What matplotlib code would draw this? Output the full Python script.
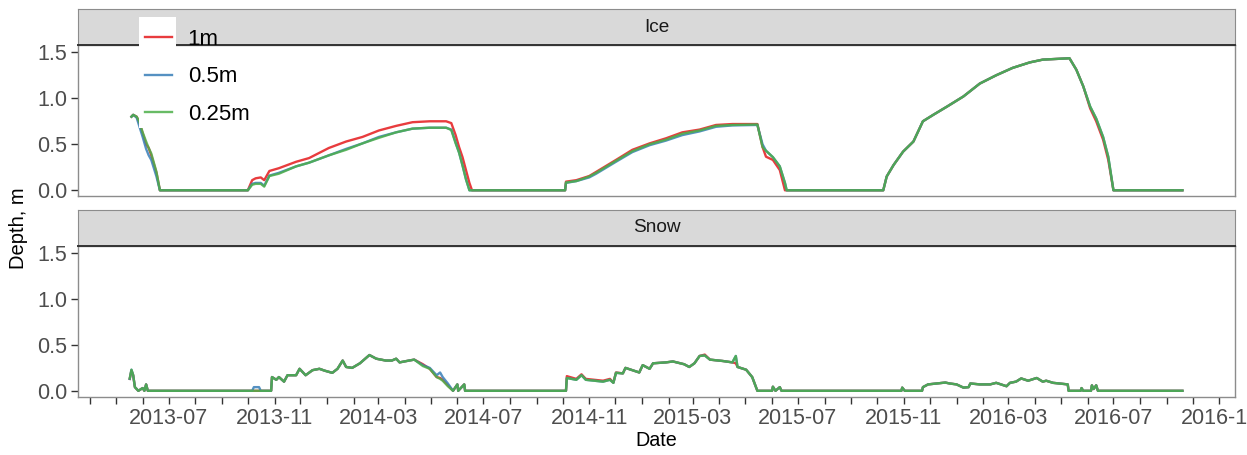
import matplotlib
matplotlib.use("Agg")
import matplotlib.pyplot as plt
import matplotlib.dates as mdates
import pandas as pd
from matplotlib.lines import Line2D
from matplotlib.patches import Rectangle
from matplotlib.ticker import FormatStrFormatter

plt.rcParams['font.family'] = ['Liberation Sans', 'DejaVu Sans']

series = ["1m", "0.5m", "0.25m"]
colors = ["#E41A1C", "#377EB8", "#4DAF4A"]

# ice depth (m)
ice_dates = [
    "2013-05-19", "2013-05-21", "2013-05-25", "2013-05-28", "2013-06-01", "2013-06-05", "2013-06-08", "2013-06-11",
    "2013-06-17", "2013-06-21", "2013-10-01", "2013-10-06", "2013-10-10", "2013-10-16", "2013-10-20", "2013-10-26",
    "2013-11-06", "2013-11-26", "2013-12-11", "2014-01-03", "2014-01-23", "2014-02-11", "2014-03-02", "2014-03-22",
    "2014-04-10", "2014-04-30", "2014-05-19", "2014-05-25", "2014-05-30", "2014-06-03", "2014-06-07", "2014-06-11",
    "2014-06-15", "2014-06-18", "2014-10-04", "2014-10-05", "2014-10-17", "2014-11-01", "2014-11-09", "2014-12-02",
    "2014-12-21", "2015-01-10", "2015-01-29", "2015-02-17", "2015-03-09", "2015-03-28", "2015-04-16", "2015-05-15",
    "2015-05-21", "2015-05-25", "2015-06-02", "2015-06-10", "2015-06-16", "2015-06-18", "2015-10-08", "2015-10-12",
    "2015-10-20", "2015-10-31", "2015-11-12", "2015-11-23", "2015-12-05", "2015-12-21", "2016-01-09", "2016-01-28",
    "2016-02-16", "2016-03-06", "2016-03-26", "2016-04-10", "2016-05-11", "2016-05-19", "2016-05-27", "2016-06-04",
    "2016-06-11", "2016-06-19", "2016-06-25", "2016-07-01", "2016-09-19",
]
ice_1m = [
    .80, .82, .80, .74, .62, .50, .46, .38,
    .19, 0, 0, .11, .13, .14, .11, .21,
    .24, .31, .35, .46, .53, .58, .65, .70,
    .74, .75, .75, .73, .60, .47, .36, .22,
    .08, 0, 0, .094, .11, .155, .20, .33,
    .44, .51, .565, .63, .66, .71, .72, .72,
    .47, .365, .33, .22, 0, 0, 0, .15,
    .275, .42, .53, .75, .82, .91, 1.02, 1.16,
    1.25, 1.33, 1.39, 1.42, 1.435, 1.31, 1.13, .89,
    .75, .55, .33, 0, 0,
]
ice_05m = [
    .80, .82, .79, .70, .58, .45, .38, .33,
    .15, 0, 0, .07, .08, .08, .05, .16,
    .19, .26, .30, .38, .45, .51, .58, .63,
    .67, .68, .68, .66, .52, .41, .27, .12,
    0, 0, 0, .08, .10, .14, .18, .31,
    .415, .49, .54, .60, .64, .69, .705, .71,
    .50, .43, .36, .26, .08, 0, 0, .15,
    .275, .42, .53, .75, .82, .91, 1.02, 1.16,
    1.25, 1.33, 1.39, 1.42, 1.435, 1.31, 1.13, .91,
    .78, .58, .365, 0, 0,
]
ice_025m = [
    .80, .82, .80, .75, .63, .53, .46, .40,
    .20, 0, 0, .06, .07, .07, .04, .155,
    .18, .26, .30, .38, .44, .51, .57, .63,
    .67, .68, .68, .655, .51, .41, .27, .12,
    0, 0, 0, .085, .10, .15, .19, .32,
    .425, .50, .55, .615, .65, .70, .71, .715,
    .47, .43, .36, .26, .08, 0, 0, .15,
    .275, .42, .53, .75, .82, .91, 1.02, 1.16,
    1.25, 1.33, 1.39, 1.42, 1.435, 1.31, 1.13, .91,
    .78, .58, .365, 0, 0,
]

# snow depth (m)
snow_dates = [
    "2013-05-17", "2013-05-19", "2013-05-21", "2013-05-23", "2013-05-27", "2013-06-01", "2013-06-03", "2013-06-05",
    "2013-06-07", "2013-10-06", "2013-10-08", "2013-10-14", "2013-10-16", "2013-10-28", "2013-10-29", "2013-11-03",
    "2013-11-06", "2013-11-12", "2013-11-16", "2013-11-26", "2013-11-30", "2013-12-07", "2013-12-15", "2013-12-23",
    "2013-12-29", "2014-01-07", "2014-01-13", "2014-01-19", "2014-01-23", "2014-01-30", "2014-02-08", "2014-02-19",
    "2014-02-27", "2014-03-10", "2014-03-17", "2014-03-22", "2014-03-26", "2014-04-06", "2014-04-12", "2014-04-22",
    "2014-04-30", "2014-05-08", "2014-05-12", "2014-05-15", "2014-05-21", "2014-05-27", "2014-06-01", "2014-06-02",
    "2014-06-09", "2014-06-10", "2014-10-05", "2014-10-06", "2014-10-17", "2014-10-23", "2014-10-28", "2014-11-17",
    "2014-11-25", "2014-11-29", "2014-12-02", "2014-12-10", "2014-12-13", "2014-12-21", "2014-12-29", "2015-01-02",
    "2015-01-10", "2015-01-14", "2015-01-29", "2015-02-06", "2015-02-19", "2015-02-25", "2015-03-03", "2015-03-09",
    "2015-03-15", "2015-03-21", "2015-04-05", "2015-04-16", "2015-04-20", "2015-04-22", "2015-05-02", "2015-05-09",
    "2015-05-15", "2015-06-01", "2015-06-02", "2015-06-05", "2015-06-10", "2015-06-12", "2015-10-29", "2015-10-30",
    "2015-11-02", "2015-11-22", "2015-11-23", "2015-11-29", "2015-12-09", "2015-12-19", "2015-12-24", "2016-01-01",
    "2016-01-09", "2016-01-15", "2016-01-17", "2016-01-28", "2016-02-09", "2016-02-16", "2016-02-28", "2016-03-03",
    "2016-03-10", "2016-03-16", "2016-03-24", "2016-04-03", "2016-04-10", "2016-04-14", "2016-04-22", "2016-05-09",
    "2016-05-10", "2016-05-24", "2016-05-25", "2016-05-27", "2016-06-05", "2016-06-06", "2016-06-08", "2016-06-11",
    "2016-06-13", "2016-09-19",
]
snow_1m = [
    .13, .22, .17, .04, 0, .03, 0, .07,
    0, 0, 0, 0, 0, 0, .15, .12,
    .15, .10, .17, .17, .24, .17, .225, .24,
    .22, .196, .24, .33, .26, .25, .30, .39,
    .35, .33, .33, .35, .31, .33, .34, .29,
    .24, .15, .14, .12, .06, 0, .07, 0,
    .07, 0, 0, .16, .13, .18, .13, .11,
    .13, .09, .20, .19, .25, .225, .20, .28,
    .24, .30, .31, .32, .29, .26, .30, .38,
    .395, .34, .325, .31, .30, .26, .23, .15,
    0, 0, .045, 0, .04, 0, 0, .035,
    0, 0, .04, .07, .08, .09, .08, .07,
    .035, .04, .08, .07, .07, .087, .05, .087,
    .10, .135, .11, .14, .10, .11, .087, .07,
    0, 0, .03, 0, 0, .06, .02, .06,
    0, 0,
]
snow_05m = [
    .13, .23, .17, .04, 0, .03, 0, .07,
    0, 0, .04, .04, 0, 0, .15, .12,
    .15, .10, .17, .17, .24, .17, .225, .24,
    .22, .196, .24, .33, .26, .25, .30, .39,
    .35, .33, .33, .35, .31, .33, .34, .28,
    .25, .17, .20, .15, .08, 0, .07, 0,
    .07, 0, 0, .14, .12, .17, .12, .10,
    .12, .087, .196, .19, .25, .225, .20, .28,
    .24, .30, .31, .32, .29, .26, .30, .38,
    .385, .34, .325, .31, .38, .26, .23, .15,
    0, 0, .045, 0, .04, 0, 0, .035,
    0, 0, .04, .07, .08, .09, .08, .07,
    .035, .04, .08, .07, .07, .087, .05, .087,
    .10, .135, .11, .14, .10, .11, .087, .07,
    0, 0, .03, 0, 0, .06, .02, .06,
    0, 0,
]
snow_025m = [
    .135, .23, .17, .04, 0, .03, 0, .07,
    0, 0, 0, 0, 0, 0, .15, .12,
    .15, .10, .17, .17, .24, .17, .225, .24,
    .22, .196, .24, .33, .26, .25, .30, .39,
    .35, .33, .33, .35, .31, .33, .34, .27,
    .24, .15, .13, .11, .05, 0, .07, 0,
    .07, 0, 0, .14, .12, .17, .12, .10,
    .12, .087, .196, .19, .25, .225, .20, .28,
    .24, .30, .31, .32, .29, .26, .30, .38,
    .385, .34, .325, .31, .38, .26, .23, .15,
    0, 0, .045, 0, .04, 0, 0, .035,
    0, 0, .04, .07, .08, .09, .08, .07,
    .035, .04, .08, .07, .07, .087, .05, .087,
    .10, .135, .11, .14, .10, .11, .087, .07,
    0, 0, .03, 0, 0, .06, .02, .06,
    0, 0,
]

W, H = 1247, 455


def box(left, top, right, bottom):
    # pixel box -> figure fraction
    return [left / W, 1 - bottom / H, (right - left) / W, (bottom - top) / H]


fig = plt.figure(figsize=(W / 100, H / 100), dpi=100)

panels = [
    ("Ice", ice_dates, [ice_1m, ice_05m, ice_025m], 45, 196, 9.5),
    ("Snow", snow_dates, [snow_1m, snow_05m, snow_025m], 246, 396.5, 210),
]
xmin, xmax = pd.Timestamp("2013-03-18"), pd.Timestamp("2016-11-19")
border = "#8c8c8c"

for name, dates, vals, top, bottom, strip_top in panels:
    ax = fig.add_axes(box(78, top, 1235, bottom))
    d = pd.to_datetime(dates)
    for v, c, lab in zip(vals, colors, series):
        ax.plot(d, v, color=c, lw=1.7, alpha=0.85, label=lab)
    ax.set_xlim(xmin, xmax)
    ax.set_ylim(-0.062, 1.579)
    ax.set_yticks([0, 0.5, 1.0, 1.5])
    ax.yaxis.set_major_formatter(FormatStrFormatter("%.1f"))
    for s in ax.spines.values():
        s.set_color(border)
        s.set_linewidth(1.0)
    ax.tick_params(which="both", length=5, width=1, color="#333333",
                   labelcolor="#4d4d4d", labelsize=15.5, pad=3)
    if name == "Snow":
        ax.xaxis.set_major_locator(mdates.MonthLocator(bymonth=[3, 7, 11]))
        ax.xaxis.set_major_formatter(mdates.DateFormatter("%Y-%m"))
        ax.xaxis.set_minor_locator(mdates.MonthLocator())
        ax.set_xlabel("Date", fontsize=14.2, labelpad=2)
    else:
        ax.tick_params(axis="x", which="both", bottom=False, labelbottom=False)
        legend_handles = [Line2D([], [], color=c, lw=1.7, alpha=0.85) for c in colors]

    st = fig.add_axes(box(78, strip_top, 1235, top))
    st.set_facecolor("#d9d9d9")
    st.set_xticks([])
    st.set_yticks([])
    for s in st.spines.values():
        s.set_color(border)
    st.spines["bottom"].set_color("#333333")
    st.spines["bottom"].set_linewidth(1.4)
    st.text(0.5, 0.5, name, ha="center", va="center", fontsize=13.7, color="#1a1a1a",
            transform=st.transAxes)

fig.text(18 / W, 1 - 228 / H, "Depth, m", rotation=90, ha="center", va="center", fontsize=14.5)

# legend sits over the top panel, keys on a white background
fig.patches.append(Rectangle((139 / W, 1 - 128 / H), 37 / W, 111 / H, transform=fig.transFigure,
                             facecolor="white", edgecolor="none", zorder=4))
fig.legend(legend_handles, series, loc="upper left", bbox_to_anchor=(145 / W, 1 - 29 / H),
           frameon=False, fontsize=16, handlelength=1.2, handletextpad=0.72,
           labelspacing=0.74, borderpad=0, borderaxespad=0)

fig.savefig("out.png", dpi=100)
